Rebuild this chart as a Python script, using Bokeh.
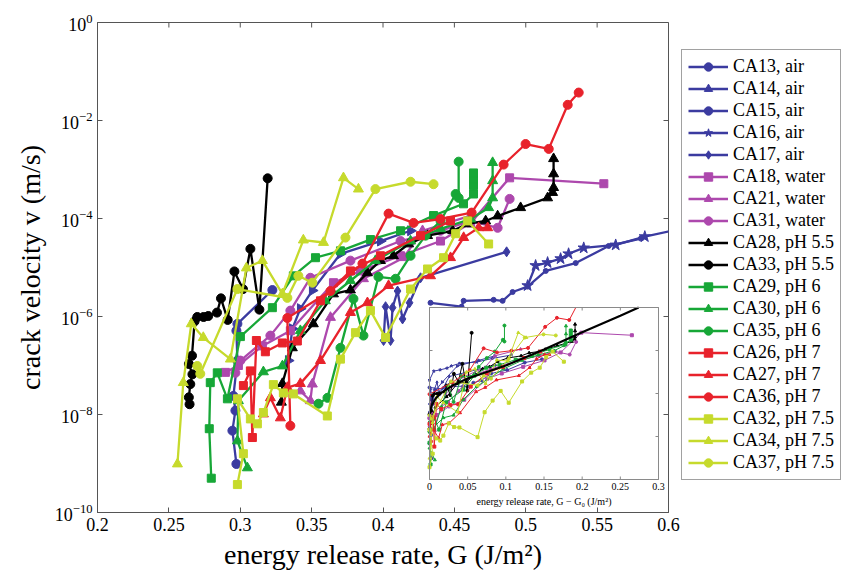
import numpy as np
from bokeh.plotting import figure
from bokeh.models import (Range1d, LogScale, LinearScale, FixedTicker, NumeralTickFormatter,
                          Legend, LegendItem)
from bokeh.core.properties import value
from bokeh.embed import file_html
from bokeh.resources import INLINE

FONT = "Liberation Serif"

# ---------------- data: energy release rate G (J/m^2) and log10 of crack velocity v (m/s)
ca13_G = [0.4333, 0.4550, 0.4565, 0.4775, 0.4838, 0.4908, 0.5013, 0.5140, 0.5350, 0.5581, 0.5806]
ca13_logv = [-5.72, -5.80, -5.68, -5.66, -5.68, -5.50, -5.39, -5.07, -4.91, -4.56, -4.41]
ca14_G = [0.3337, 0.3365, 0.3421, 0.3505, 0.3702, 0.3982, 0.4193]
ca14_logv = [-6.90, -6.25, -5.84, -5.47, -4.72, -4.46, -4.25]
ca15_G = [0.2973, 0.2945, 0.2966, 0.2952, 0.2980, 0.2973, 0.2980, 0.3225]
ca15_logv = [-9.01, -8.33, -7.92, -7.62, -6.90, -6.29, -6.15, -5.46]
ca16_G = [0.5013, 0.5069, 0.5153, 0.5244, 0.5300, 0.5406, 0.5630, 0.5834, 0.6086]
ca16_logv = [-5.37, -4.96, -4.90, -4.82, -4.72, -4.60, -4.54, -4.37, -4.21]
ca17_G = [0.4004, 0.4018, 0.4053, 0.4067, 0.4102, 0.4137, 0.4186, 0.4263, 0.4866]
ca17_logv = [-6.49, -5.80, -6.49, -5.82, -5.48, -6.05, -5.72, -5.21, -4.68]
ca18_G = [0.2896, 0.2987, 0.3155, 0.3351, 0.3653, 0.3842, 0.4123, 0.4403, 0.4614, 0.4887, 0.5547]
ca18_logv = [-7.14, -7.00, -6.60, -6.29, -5.31, -5.07, -4.76, -4.46, -4.09, -3.17, -3.29]
ca21_G = [0.3421, 0.3491, 0.3505, 0.3632, 0.3863, 0.4144, 0.4277, 0.4614]
ca21_logv = [-7.52, -7.72, -7.38, -6.02, -5.23, -4.80, -4.25, -3.94]
ca31_G = [0.2966, 0.3001, 0.3211, 0.3351, 0.3491, 0.3772, 0.4123, 0.4403, 0.4614, 0.4803, 0.4887]
ca31_logv = [-7.15, -6.90, -6.39, -5.88, -5.21, -4.86, -4.46, -4.25, -4.05, -4.19, -3.60]
ca28_G = [0.3288, 0.3295, 0.3365, 0.3512, 0.3653, 0.3772, 0.3891, 0.3982, 0.4073, 0.4179, 0.4312,
          0.4488, 0.4593, 0.4719, 0.4803, 0.4964, 0.5153, 0.5188, 0.5195, 0.5195, 0.5195]
ca28_logv = [-7.75, -7.37, -6.64, -6.15, -5.54, -5.46, -5.11, -4.86, -4.76, -4.52, -4.35,
             -4.25, -4.11, -4.05, -3.95, -3.78, -3.58, -3.47, -3.37, -3.09, -2.78]
ca33_G = [0.2645, 0.2640, 0.2650, 0.2665, 0.2640, 0.2662, 0.2680, 0.2699, 0.2743, 0.2776, 0.2837,
          0.2865, 0.2912, 0.2959, 0.3019, 0.3071, 0.3134, 0.3192]
ca33_logv = [-7.79, -7.65, -7.38, -7.18, -6.97, -6.80, -6.10, -6.01, -6.01, -5.99, -5.92,
             -5.63, -6.07, -5.08, -5.44, -4.62, -5.86, -3.18]
ca29_G = [0.2797, 0.2783, 0.2790, 0.2839, 0.2910, 0.3001, 0.3225, 0.3372, 0.3527, 0.3702, 0.3912,
          0.4123, 0.4354, 0.4564, 0.4634, 0.4634, 0.4634, 0.4634]
ca29_logv = [-9.30, -8.29, -7.35, -7.15, -7.68, -6.41, -5.82, -5.17, -4.80, -4.66, -4.43,
             -4.25, -3.94, -3.70, -3.50, -3.33, -3.19, -3.07]
ca30_G = [0.3050, 0.2980, 0.2987, 0.3162, 0.3295, 0.3421, 0.3596, 0.3772, 0.3947, 0.4193, 0.4403,
          0.4614, 0.4740, 0.4768, 0.4768, 0.4768]
ca30_logv = [-9.09, -8.54, -7.72, -7.13, -7.01, -6.29, -5.68, -5.27, -4.86, -4.46, -4.21,
             -4.01, -3.78, -3.58, -3.23, -2.86]
ca35_G = [0.3548, 0.3611, 0.3702, 0.3793, 0.3863, 0.3968, 0.4088, 0.4193, 0.4298, 0.4403, 0.4509,
          0.4530, 0.4530]
ca35_logv = [-7.78, -7.66, -6.64, -5.64, -6.39, -5.19, -5.23, -4.76, -4.35, -4.05, -3.50, -3.58, -2.84]
ca26_G = [0.3022, 0.3071, 0.3085, 0.3113, 0.3176, 0.3295, 0.3400, 0.3562, 0.3772, 0.3982, 0.4263, 0.4473]
ca26_logv = [-7.41, -7.11, -8.47, -6.49, -6.72, -6.54, -6.50, -5.68, -5.07, -4.76, -4.35, -4.05]
ca27_G = [0.3162, 0.3211, 0.3281, 0.3330, 0.3421, 0.3562, 0.3772, 0.3891, 0.4039, 0.4333, 0.4473,
          0.4565, 0.4670, 0.4733]
ca27_logv = [-7.99, -7.66, -8.07, -7.45, -7.37, -6.90, -5.92, -5.72, -5.37, -5.17, -4.80,
             -4.39, -4.19, -4.19]
ca36_G = [0.3351, 0.3330, 0.3632, 0.3856, 0.4039, 0.4214, 0.4403, 0.4621, 0.4845, 0.4999, 0.5161,
          0.5294, 0.5371]
ca36_logv = [-8.23, -6.03, -5.48, -4.92, -3.90, -4.09, -4.01, -3.88, -2.90, -2.48, -2.58, -1.68, -1.43]
ca32_G = [0.2980, 0.3022, 0.2980, 0.3071, 0.3120, 0.3162, 0.3232, 0.3302, 0.3372, 0.3610, 0.3702,
          0.3807, 0.3912, 0.4018, 0.4193, 0.4312, 0.4424, 0.4509, 0.4593, 0.4740]
ca32_logv = [-9.43, -8.80, -7.68, -8.09, -8.19, -7.96, -7.39, -7.56, -7.58, -8.03, -6.87,
             -6.33, -5.88, -6.43, -5.44, -5.03, -4.80, -4.31, -4.05, -4.52]
ca34_G = [0.2560, 0.2601, 0.2657, 0.2741, 0.2931, 0.3043, 0.3155, 0.3295, 0.3442, 0.3583, 0.3723, 0.3828]
ca34_logv = [-9.01, -7.35, -6.15, -6.43, -6.87, -5.01, -4.86, -5.54, -4.44, -4.49, -3.17, -3.40]
ca37_G = [0.2699, 0.2720, 0.2980, 0.3330, 0.3407, 0.3505, 0.3737, 0.3947, 0.4193, 0.4354]
ca37_logv = [-7.01, -7.17, -5.44, -5.62, -5.17, -5.31, -4.39, -3.40, -3.25, -3.30]

# inset: fitted curve, v against G - G0
fit_dG = [0.0, 0.003, 0.008, 0.015, 0.03, 0.05, 0.075, 0.10, 0.15, 0.20, 0.25, 0.274]
fit_logv = [-6.95, -6.55, -6.23, -5.98, -5.63, -5.30, -5.00, -4.70, -3.95, -3.15, -2.38, -2.0]

labels = ["CA13, air", "CA14, air", "CA15, air", "CA16, air", "CA17, air",
          "CA18, water", "CA21, water", "CA31, water",
          "CA28, pH 5.5", "CA33, pH 5.5",
          "CA29, pH 6", "CA30, pH 6", "CA35, pH 6",
          "CA26, pH 7", "CA27, pH 7", "CA36, pH 7",
          "CA32, pH 7.5", "CA34, pH 7.5", "CA37, pH 7.5"]
G_data = [ca13_G, ca14_G, ca15_G, ca16_G, ca17_G, ca18_G, ca21_G, ca31_G, ca28_G, ca33_G,
          ca29_G, ca30_G, ca35_G, ca26_G, ca27_G, ca36_G, ca32_G, ca34_G, ca37_G]
logv_data = [ca13_logv, ca14_logv, ca15_logv, ca16_logv, ca17_logv, ca18_logv, ca21_logv, ca31_logv,
             ca28_logv, ca33_logv, ca29_logv, ca30_logv, ca35_logv, ca26_logv, ca27_logv, ca36_logv,
             ca32_logv, ca34_logv, ca37_logv]

x_ticks = [0.2, 0.25, 0.3, 0.35, 0.4, 0.45, 0.5, 0.55, 0.6]
y_ticks = [1e-10, 1e-8, 1e-6, 1e-4, 1e-2, 1e0]
inset_x_ticks = [0.0, 0.05, 0.1, 0.15, 0.2, 0.25, 0.3]
inset_x_labels = ["0", "0.05", "0.1", "0.15", "0.2", "0.25", "0.3"]
inset_y_ticks = [1e-10, 1e-8, 1e-6, 1e-4, 1e-2]

# ---------------- styles
BLUE, MAG, BLACK, GREEN, RED, YEL = "#3b3ba0", "#ad48ad", "#000000", "#17a737", "#e8222b", "#c6da2c"
colors = [BLUE] * 5 + [MAG] * 3 + [BLACK] * 2 + [GREEN] * 3 + [RED] * 3 + [YEL] * 3
markers = ["circle", "triangle", "circle", "star", "diamond",
           "square", "triangle", "circle",
           "triangle", "circle",
           "square", "triangle", "circle",
           "square", "triangle", "circle",
           "square", "triangle", "circle"]
angles = [0, -np.pi / 2] + [0] * 17
msize = {"circle": 9, "triangle": 10, "square": 8, "star": 12, "diamond": 10}

BL, BT, BB = 97, 22, 63
FW, FH = 571, 490
X0, X1 = 0.2, 0.6
LY0, LY1 = -10.0, 0.0

p = figure(frame_width=FW, frame_height=FH, output_backend="svg", toolbar_location=None,
           x_range=Range1d(X0, X1), y_range=Range1d(10 ** LY0, 10 ** LY1), y_axis_type="log",
           min_border_left=BL, min_border_right=0, min_border_top=BT, min_border_bottom=BB)
p.grid.visible = False
p.outline_line_color = "#555555"
p.background_fill_color = "white"
p.border_fill_color = "white"

for ax in (p.xaxis[0], p.yaxis[0]):
    ax.major_tick_in = 5
    ax.major_tick_out = 0
    ax.minor_tick_line_color = None
    ax.axis_line_color = "#555555"
    ax.major_tick_line_color = "#555555"
    ax.major_label_text_font = FONT
    ax.major_label_text_font_size = "18px"
    ax.major_label_text_color = "black"
    ax.axis_label_text_font = FONT
    ax.axis_label_text_font_size = "28px"
    ax.axis_label_text_font_style = "normal"
    ax.axis_label_text_color = "black"

p.xaxis[0].ticker = FixedTicker(ticks=x_ticks)
p.xaxis[0].formatter = NumeralTickFormatter(format="0.0[0]")
p.xaxis[0].axis_label = "energy release rate, G (J/m²)"
p.xaxis[0].axis_label_standoff = 5
p.yaxis[0].ticker = FixedTicker(ticks=y_ticks)
p.yaxis[0].axis_label = "crack velocity v (m/s)"
p.yaxis[0].axis_label_standoff = 6

# tick marks on the top and right edges of the box
tkx = 5 * (X1 - X0) / FW
tky = 5 * (LY1 - LY0) / FH
p.segment(x0=x_ticks, x1=x_ticks, y0=[10 ** LY1] * len(x_ticks), y1=[10 ** (LY1 - tky)] * len(x_ticks),
          line_color="#555555")
p.segment(x0=[X1] * len(y_ticks), x1=[X1 - tkx] * len(y_ticks), y0=y_ticks, y1=y_ticks,
          line_color="#555555")

# ---------------- main series
items = []
for G, lv, lab, c, m, a in zip(G_data, logv_data, labels, colors, markers, angles):
    v = 10 ** np.array(lv)
    rl = p.line(G, v, line_color=c, line_width=2.3)
    sz = 5 if lab.startswith("CA13") else msize[m]
    rs = p.scatter(G, v, marker=m, size=sz, angle=a, fill_color=c, line_color=c)
    items.append(LegendItem(label=lab, renderers=[rl, rs]))

# ---------------- inset (own ranges mapped to a sub-box of the frame)
FL, FR, FT, FB = BL, BL + FW, BT, BT + FH          # frame box, px
IL, IR, IT, IB = 429, 658, 307, 479                # inset box, px
ix0, ix1, iy0, iy1 = 0.0, 0.3, -10.0, -2.0
sx = (ix1 - ix0) / (IR - IL)
sy = (iy1 - iy0) / (IB - IT)
p.extra_x_ranges = {"ix": Range1d(ix0 - (IL - FL) * sx, ix1 + (FR - IR) * sx)}
p.extra_x_scales = {"ix": LinearScale()}
p.extra_y_ranges = {"iy": Range1d(10 ** (iy0 - (FB - IB) * sy), 10 ** (iy1 + (IT - FT) * sy))}
p.extra_y_scales = {"iy": LogScale()}
kw = dict(x_range_name="ix", y_range_name="iy")

p.quad(left=[ix0 - 9 * sx], right=[ix1 + 3 * sx], bottom=[10 ** (iy0 - 27 * sy)], top=[10 ** iy1],
       fill_color="white", line_color=None, **kw)


def clip_top(x, lv, top):
    xs, ys = [], []
    for i in range(len(x)):
        if lv[i] <= top:
            xs.append(x[i]); ys.append(lv[i])
        else:
            if i > 0 and lv[i - 1] <= top:
                t = (top - lv[i - 1]) / (lv[i] - lv[i - 1])
                xs.append(x[i - 1] + t * (x[i] - x[i - 1])); ys.append(top)
            break
    return xs, ys


for G, lv, c, m, a in zip(G_data, logv_data, colors, markers, angles):
    g0 = min(G)
    dG = [g - g0 for g in G]
    cx, cy = clip_top(dG, lv, iy1)
    p.line(cx, [10 ** y for y in cy], line_color=c, line_width=1, **kw)
    px = [d for d, y in zip(dG, lv) if y <= iy1]
    py = [10 ** y for y in lv if y <= iy1]
    p.scatter(px, py, marker=m, size=3, angle=a, fill_color=c, line_color=c, **kw)

p.line(fit_dG, [10 ** y for y in fit_logv], line_color="black", line_width=2.2, **kw)

# inset frame and ticks
p.quad(left=[ix0], right=[ix1], bottom=[10 ** iy0], top=[10 ** iy1],
       fill_color=None, line_color="#8a8a8a", line_width=1, **kw)
tl = 3
p.segment(x0=inset_x_ticks, x1=inset_x_ticks, y0=[10 ** iy0] * 7, y1=[10 ** (iy0 + tl * sy)] * 7,
          line_color="#8a8a8a", **kw)
p.segment(x0=inset_x_ticks, x1=inset_x_ticks, y0=[10 ** iy1] * 7, y1=[10 ** (iy1 - tl * sy)] * 7,
          line_color="#8a8a8a", **kw)
p.segment(x0=[ix0] * 5, x1=[ix0 + tl * sx] * 5, y0=inset_y_ticks, y1=inset_y_ticks,
          line_color="#8a8a8a", **kw)
p.segment(x0=[ix1] * 5, x1=[ix1 - tl * sx] * 5, y0=inset_y_ticks, y1=inset_y_ticks,
          line_color="#8a8a8a", **kw)
p.text(x=inset_x_ticks, y=[10 ** iy0] * 7, text=inset_x_labels, x_offset=0, y_offset=3,
       text_align="center", text_baseline="top", text_font=value(FONT), text_font_size="10px",
       text_color="black", **kw)
p.text(x=[(ix0 + ix1) / 2], y=[10 ** iy0], text=["energy release rate, G − G₀ (J/m²)"], y_offset=16,
       text_align="center", text_baseline="top", text_font=value(FONT), text_font_size="10px",
       text_color="black", **kw)

# ---------------- legend (outside, right of the box)
lg = Legend(items=items, location=(13, 32))
lg.label_text_font = FONT
lg.label_text_font_size = "18px"
lg.label_text_color = "black"
lg.label_height = 21
lg.glyph_height = 21
lg.glyph_width = 40
lg.label_standoff = 5
lg.spacing = 1
lg.padding = 6
lg.margin = 0
lg.border_line_color = "#444444"
lg.border_line_width = 1
lg.background_fill_alpha = 1.0
p.add_layout(lg, "right")

open("out.html", "w").write(file_html(p, INLINE))
